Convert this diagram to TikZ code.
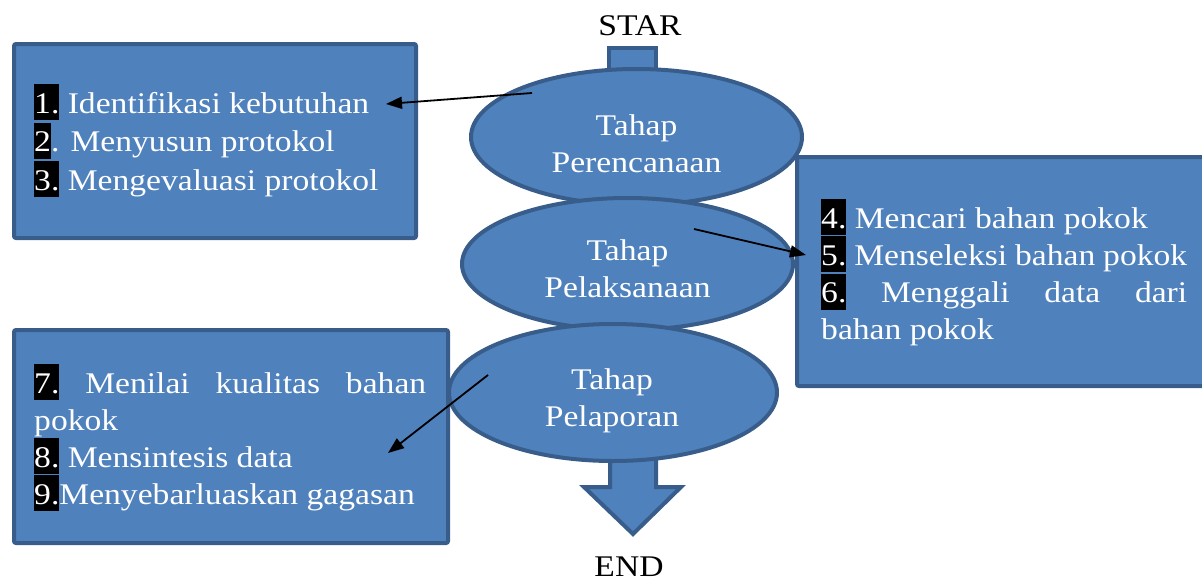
\documentclass[tikz,border=0pt]{standalone}
\usepackage{fontspec}
\setmainfont[FakeStretch=1.12]{Liberation Serif}
\usetikzlibrary{arrows.meta,shapes.geometric}
\definecolor{fillblue}{HTML}{4F81BD}
\definecolor{edgeblue}{HTML}{385D8A}
\newcommand{\hlnum}[1]{{\setlength{\fboxsep}{0pt}\colorbox{black}{\rule[-7pt]{0pt}{36pt}#1}}}
\tikzset{
  blueshape/.style={fill=fillblue, draw=edgeblue, line width=4pt},
  listbox/.style={blueshape, rectangle, rounded corners=2pt, inner sep=0pt},
  phase/.style={blueshape, ellipse, inner sep=0pt},
  wtext/.style={text=white, inner sep=0pt, font=\fontsize{30}{37}\selectfont},
  btext/.style={text=black, inner sep=0pt, font=\fontsize{30}{37}\selectfont},
  link/.style={draw=black, line width=1.8pt, -{Triangle[length=16pt,width=12pt]}}
}
\begin{document}
\begin{tikzpicture}[x=1pt,y=-1pt]
\useasboundingbox (0,0) rectangle (1202,581);
% start stem and end arrow
\node[listbox, rounded corners=0pt, minimum width=47pt, minimum height=50pt] (stem) at (632.5,73) {};
\filldraw[blueshape, line join=miter] (610,430) -- (610,487) -- (584,487) -- (633,534) -- (681,487) -- (656,487) -- (656,430) -- cycle;
% phases
\node[phase, minimum width=331pt, minimum height=136pt] (p1) at (636.5,137) {};
\node[phase, minimum width=331pt, minimum height=132pt] (p2) at (627.5,264) {};
\node[phase, minimum width=328pt, minimum height=137pt] (p3) at (613,392.5) {};
% boxes
\node[listbox, minimum width=402pt, minimum height=194pt] (b1) at (215,141) {};
\node[listbox, minimum width=412pt, minimum height=229pt] (b2) at (1003,271.5) {};
\node[listbox, minimum width=434pt, minimum height=213pt] (b3) at (231,436.5) {};
% labels
\node[btext, anchor=base] (star) at (640,35) {STAR};
\node[btext, anchor=base] (end) at (629,576) {END};
\node[wtext, anchor=base] (p1t) at (636.5,135) {\begin{tabular}[t]{@{}c@{}}Tahap\\Perencanaan\end{tabular}};
\node[wtext, anchor=base] (p2t) at (627.5,260) {\begin{tabular}[t]{@{}c@{}}Tahap\\Pelaksanaan\end{tabular}};
\node[wtext, anchor=base] (p3t) at (612,389) {\begin{tabular}[t]{@{}c@{}}Tahap\\Pelaporan\end{tabular}};
\node[wtext, anchor=base west] (b1t) at (34,113) {\parbox[t]{370pt}{\raggedright\baselineskip=38.5pt
\hlnum{1.} Identifikasi kebutuhan\\
\hlnum{2}. Menyusun protokol\\
\hlnum{3.} Mengevaluasi protokol}};
\node[wtext, anchor=base west] (b2t) at (821,228) {\parbox[t]{366pt}{\raggedright\baselineskip=37.3pt
\hlnum{4.} Mencari bahan pokok\\
\hlnum{5.} Menseleksi bahan pokok\\
\makebox[366pt][l]{\hlnum{6.}\hfill Menggali\hfill data\hfill dari}\\
bahan pokok}};
\node[wtext, anchor=base west] (b3t) at (34,393) {\parbox[t]{392pt}{\raggedright\baselineskip=37pt
\makebox[392pt][l]{\hlnum{7.}\hfill Menilai\hfill kualitas\hfill bahan}\\
pokok\\
\hlnum{8.} Mensintesis data\\
\hlnum{9.}Menyebarluaskan gagasan}};
% connectors
\coordinate (a1s) at (532,93);
\coordinate (a1e) at (386,104);
\coordinate (a2s) at (694,229);
\coordinate (a2e) at (806,255);
\coordinate (a3s) at (488,375);
\coordinate (a3e) at (388,453);
\draw[link] (a1s) -- (a1e);
\draw[link] (a2s) -- (a2e);
\draw[link] (a3s) -- (a3e);
\end{tikzpicture}
\end{document}
